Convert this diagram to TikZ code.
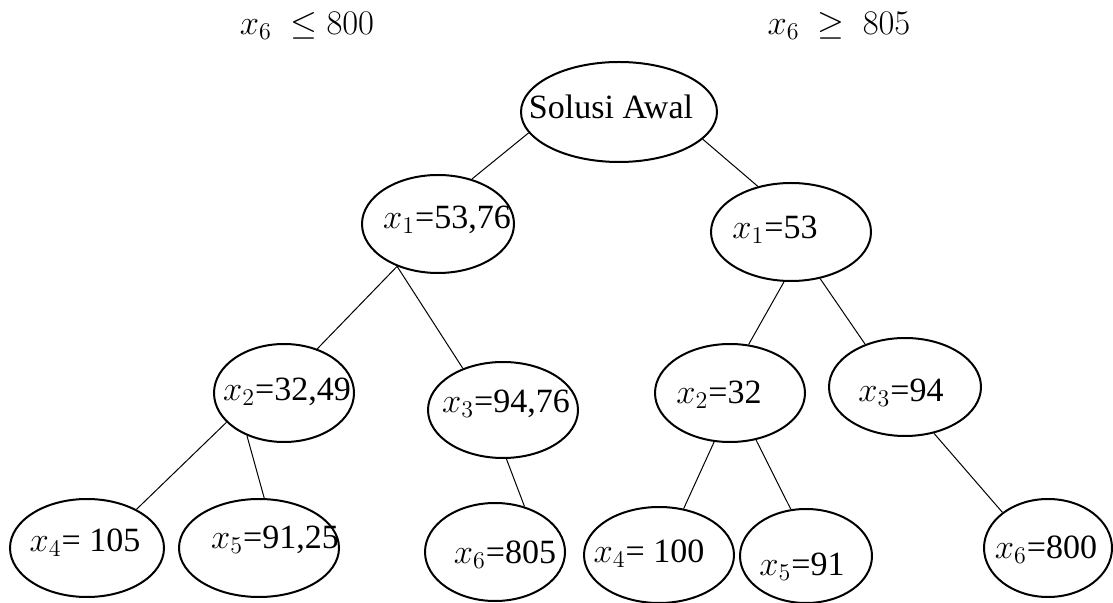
\documentclass[tikz,border=0pt]{standalone}
\usepackage{fontspec}
\setmainfont{Liberation Serif}
\usetikzlibrary{shapes.geometric}
\begin{document}
\begin{tikzpicture}[x=0.5pt,y=-0.5pt,
  ell/.style 2 args={draw, ellipse, line width=1pt, inner sep=0pt, minimum width=#1pt, minimum height=#2pt},
  lbl/.style={font=\fontsize{17}{20}\selectfont, inner sep=0pt},
  con/.style={line width=0.5pt}]
\useasboundingbox (0,0) rectangle (1113,603);
% top labels
\node[lbl] (left)  at (307,26) {$x_6\ \leq 800$};
\node[lbl] (right) at (839,26) {$x_6\ \geq\ 805$};
% ellipses
\node[ell={98}{50}] (s) at (619,112) {};
\node[ell={76}{49}] (a) at (438,224) {};
\node[ell={80}{49}] (b) at (791,232) {};
\node[ell={70}{49}] (c) at (284,393) {};
\node[ell={75}{48}] (d) at (503,410) {};
\node[ell={75}{49}] (e) at (730,393) {};
\node[ell={76}{49}] (f) at (905,387) {};
\node[ell={77}{49}] (g) at (87,548) {};
\node[ell={80}{49}] (h) at (259,548) {};
\node[ell={70}{49}] (i) at (495,552) {};
\node[ell={75}{48}] (j) at (659,555) {};
\node[ell={66}{47}] (k) at (806,556) {};
\node[ell={64}{49}] (l) at (1048,548) {};
% texts
\node[lbl] (ts) at (611,107) {Solusi Awal};
\node[lbl] (ta) at (447,220) {$x_1$=53,76};
\node[lbl] (tb) at (775,230) {$x_1$=53};
\node[lbl] (tc) at (287,392) {$x_2$=32,49};
\node[lbl] (td) at (506,404) {$x_3$=94,76};
\node[lbl] (te) at (719,395) {$x_2$=32};
\node[lbl] (tf) at (901,393) {$x_3$=94};
\node[lbl] (tg) at (85,543) {$x_4$= 105};
\node[lbl] (th) at (275,540) {$x_5$=91,25};
\node[lbl] (ti) at (505,555) {$x_6$=805};
\node[lbl] (tj) at (649,554) {$x_4$= 100};
\node[lbl] (tk) at (802,567) {$x_5$=91};
\node[lbl] (tl) at (1046,550) {$x_6$=800};
% connectors
\draw[con] (s.193) -- (a.53);
\draw[con] (s.342) -- (b.126);
\draw[con] (a.226) -- (c.53);
\draw[con] (a.226) -- (d.134);
\draw[con] (b.262) -- (e.69);
\draw[con] (b.302) -- (f.133);
\draw[con] (c.207) -- (g.38);
\draw[con] (c.229) -- (h.84);
\draw[con] (d.274) -- (i.57);
\draw[con] (e.252) -- (j.62);
\draw[con] (e.299) -- (k.108);
\draw[con] (f.302) -- (l.142);
\end{tikzpicture}
\end{document}
